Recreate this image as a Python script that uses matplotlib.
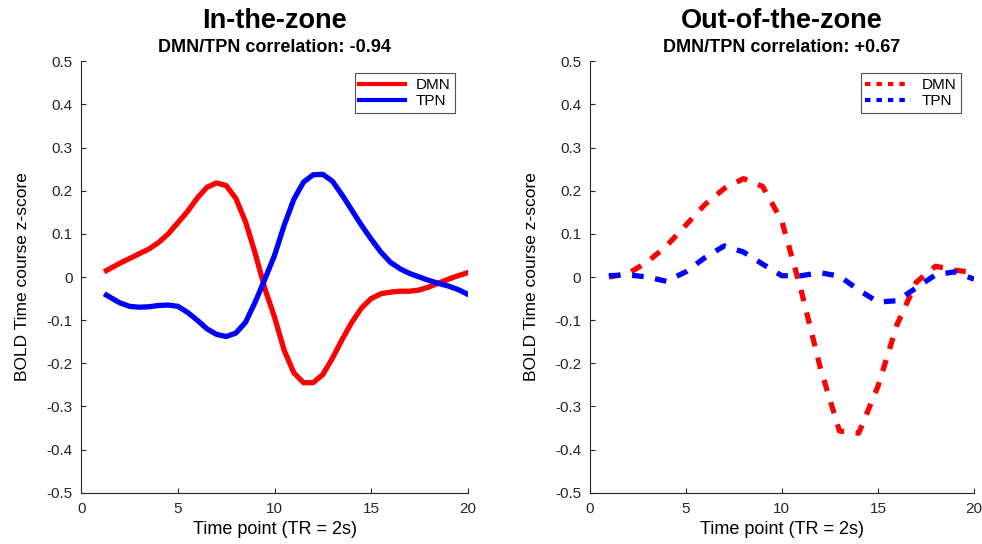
import matplotlib
matplotlib.use('Agg')
import matplotlib.pyplot as plt

plt.rcParams['font.family'] = ['Liberation Sans', 'DejaVu Sans']

# In-the-zone (smooth curves)
t_in = [1.3, 2.0, 2.5, 3.0, 3.5, 4.0, 4.5, 5.0, 5.5, 6.0, 6.5, 7.0, 7.5, 8.0, 8.5, 9.0, 9.5,
        10.0, 10.5, 11.0, 11.5, 12.0, 12.5, 13.0, 13.5, 14.0, 14.5, 15.0, 15.5, 16.0, 16.5,
        17.0, 17.5, 18.0, 18.5, 19.0, 19.5, 20.0, 20.2]
dmn_in = [0.015, 0.032, 0.043, 0.054, 0.065, 0.080, 0.100, 0.126, 0.152, 0.183, 0.208, 0.218,
          0.212, 0.182, 0.128, 0.055, -0.027, -0.093, -0.170, -0.222, -0.245, -0.245, -0.226,
          -0.188, -0.145, -0.105, -0.072, -0.050, -0.039, -0.035, -0.033, -0.033, -0.030,
          -0.023, -0.014, -0.005, 0.003, 0.010, 0.013]
tpn_in = [-0.042, -0.060, -0.068, -0.070, -0.069, -0.066, -0.065, -0.068, -0.082, -0.100,
          -0.120, -0.133, -0.138, -0.130, -0.105, -0.058, -0.005, 0.050, 0.120, 0.180, 0.220,
          0.237, 0.238, 0.222, 0.190, 0.155, 0.120, 0.088, 0.058, 0.034, 0.019, 0.008, 0.000,
          -0.008, -0.015, -0.021, -0.029, -0.040, -0.043]

# Out-of-the-zone (one value per time point)
t_out = list(range(1, 21))
dmn_out = [0.000, 0.008, 0.035, 0.072, 0.120, 0.168, 0.205, 0.228, 0.210, 0.130,
           -0.030, -0.210, -0.357, -0.362, -0.254, -0.110, -0.012, 0.025, 0.016, 0.010]
tpn_out = [0.003, 0.005, 0.000, -0.010, 0.012, 0.045, 0.072, 0.058, 0.030, 0.003,
           0.003, 0.010, 0.002, -0.030, -0.058, -0.055, -0.025, 0.005, 0.012, -0.005]

titles = ['In-the-zone', 'Out-of-the-zone']
subtitles = ['DMN/TPN correlation: -0.94', 'DMN/TPN correlation: +0.67']
yticks = [-0.5, -0.4, -0.3, -0.2, -0.1, 0, 0.1, 0.2, 0.3, 0.4, 0.5]
ytick_labels = ['-0.5', '-0.4', '-0.3', '-0.2', '-0.1', '0', '0.1', '0.2', '0.3', '0.4', '0.5']
xticks = [0, 5, 10, 15, 20]

fig = plt.figure(figsize=(9.82, 5.44), dpi=100)
ax1 = fig.add_axes([0.0828, 0.0943, 0.3935, 0.793])
ax2 = fig.add_axes([0.6005, 0.0943, 0.3913, 0.793])

lw = 3.8
dash = (0, (2.2, 2.2))
ax1.plot(t_in, dmn_in, color='#ff0000', lw=lw, solid_joinstyle='round', label='DMN')
ax1.plot(t_in, tpn_in, color='#0000ff', lw=lw, solid_joinstyle='round', label='TPN')
ax2.plot(t_out, dmn_out, color='#ff0000', lw=lw, ls=dash, label='DMN')
ax2.plot(t_out, tpn_out, color='#0000ff', lw=lw, ls=dash, label='TPN')

gray = '#262626'
for ax, ttl, sub in zip([ax1, ax2], titles, subtitles):
    ax.set_xlim(0, 20)
    ax.set_ylim(-0.5, 0.5)
    ax.set_xticks(xticks)
    ax.set_xticklabels([str(v) for v in xticks])
    ax.set_yticks(yticks)
    ax.set_yticklabels(ytick_labels)
    ax.spines['top'].set_visible(False)
    ax.spines['right'].set_visible(False)
    for s in ['left', 'bottom']:
        ax.spines[s].set_color(gray)
        ax.spines[s].set_linewidth(0.8)
    ax.tick_params(direction='in', length=3.5, width=0.8, color=gray,
                   labelcolor=gray, labelsize=11)
    ax.tick_params(axis='x', pad=7)
    ax.tick_params(axis='y', pad=6)
    ax.set_xlabel('Time point (TR = 2s)', fontsize=13, labelpad=3)
    ax.set_ylabel('BOLD Time course z-score', fontsize=12.5, labelpad=12)
    ax.text(0.5, 1.077, ttl, transform=ax.transAxes, ha='center', va='baseline',
            fontsize=19.5, fontweight='bold')
    ax.text(0.5, 1.022, sub, transform=ax.transAxes, ha='center', va='baseline',
            fontsize=13, fontweight='bold')
    leg = ax.legend(loc='upper right', bbox_to_anchor=(0.967, 0.972), borderaxespad=0,
                    fontsize=11, handlelength=3.0, handletextpad=0.7, frameon=True,
                    fancybox=False, borderpad=0.3, labelspacing=0.15)
    leg.get_frame().set_edgecolor(gray)
    leg.get_frame().set_linewidth(0.8)
    for line in leg.get_lines():
        line.set_linewidth(3)
        if ax is ax2:
            line.set_linestyle((0, (1.3, 1.45)))

fig.savefig('out.png', dpi=100)
